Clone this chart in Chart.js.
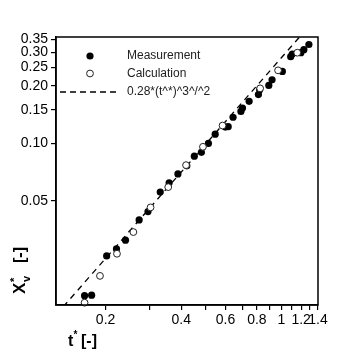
<!DOCTYPE html>
<html>
<head>
<meta charset="utf-8">
<script src="https://cdn.jsdelivr.net/npm/chart.js@4/dist/chart.umd.min.js"></script>
<style>
  html, body { margin: 0; padding: 0; background: #fff; }
  canvas { display: block; }
</style>
</head>
<body>
<canvas id="chart" width="350" height="350"></canvas>
<script>
// Measured dimensionless vapour fraction X*v against dimensionless time t*
const measT = [0.165, 0.176, 0.202, 0.221, 0.240, 0.272, 0.295, 0.330, 0.358, 0.388, 0.421,
               0.451, 0.481, 0.513, 0.546, 0.599, 0.615, 0.643, 0.691, 0.701, 0.745, 0.811,
               0.820, 0.892, 0.919, 1.010, 1.090, 1.106, 1.197, 1.230, 1.288];
const measX = [0.0160, 0.0161, 0.0258, 0.0281, 0.0312, 0.0398, 0.0440, 0.0557, 0.0622, 0.0693, 0.0764,
               0.0858, 0.0898, 0.100, 0.1118, 0.1217, 0.1224, 0.137, 0.147, 0.153, 0.166, 0.180,
               0.191, 0.201, 0.215, 0.238, 0.284, 0.293, 0.298, 0.309, 0.329];

// Calculated values
const calcT = [0.165, 0.190, 0.222, 0.258, 0.302, 0.355, 0.418, 0.488, 0.584, 0.824, 0.971, 1.158];
const calcX = [0.0147, 0.0203, 0.0265, 0.0344, 0.0463, 0.0591, 0.0770, 0.0960, 0.124, 0.194, 0.241, 0.298];

// Correlation 0.28*(t*)^(3/2)
const fitCoef = 0.28;
const fitExp = 1.5;
const fitT = [0.127, 1.4];

// Axis ticks
const xTickValues = [0.2, 0.3, 0.4, 0.5, 0.6, 0.7, 0.8, 0.9, 1.0, 1.1, 1.2, 1.3, 1.4];
const xTickLabels = [0.2, 0.4, 0.6, 0.8, 1.0, 1.2, 1.4];
const yTickValues = [0.05, 0.10, 0.15, 0.20, 0.25, 0.30, 0.35];

const legendLabels = ['Measurement', 'Calculation', '0.28*(t^*)^3^/^2'];

const FONT = '"Liberation Sans", Arial, sans-serif';

const toPoints = (xs, ys) => xs.map((x, i) => ({ x: x, y: ys[i] }));
const fitPoints = fitT.map(t => ({ x: t, y: fitCoef * Math.pow(t, fitExp) }));

const frameAndText = {
  id: 'frameAndText',
  afterDraw(chart) {
    const ctx = chart.ctx;
    const a = chart.chartArea;
    ctx.save();
    // box around the plot
    ctx.strokeStyle = '#000';
    ctx.lineWidth = 1.5;
    ctx.strokeRect(a.left, a.top, a.right - a.left, a.bottom - a.top);

    // legend
    ctx.fillStyle = '#000';
    ctx.beginPath();
    ctx.arc(90, 56, 3.6, 0, Math.PI * 2);
    ctx.fill();
    ctx.beginPath();
    ctx.arc(90, 73.5, 3.4, 0, Math.PI * 2);
    ctx.fillStyle = '#fff';
    ctx.fill();
    ctx.lineWidth = 1;
    ctx.strokeStyle = '#222';
    ctx.stroke();
    ctx.beginPath();
    ctx.setLineDash([6, 4]);
    ctx.lineWidth = 1.3;
    ctx.strokeStyle = '#000';
    ctx.moveTo(60, 92);
    ctx.lineTo(118, 92);
    ctx.stroke();
    ctx.setLineDash([]);
    ctx.fillStyle = '#222';
    ctx.font = '12px ' + FONT;
    ctx.textBaseline = 'middle';
    ctx.textAlign = 'left';
    ctx.fillText(legendLabels[0], 127, 55.5);
    ctx.fillText(legendLabels[1], 127, 73.5);
    ctx.fillText(legendLabels[2], 127, 92);

    // x-axis title: t* [-]
    ctx.fillStyle = '#000';
    ctx.textBaseline = 'alphabetic';
    ctx.font = 'bold 16px ' + FONT;
    ctx.fillText('t', 68, 346);
    ctx.font = 'bold 10px ' + FONT;
    ctx.fillText('*', 73.5, 338);
    ctx.font = 'bold 16px ' + FONT;
    ctx.fillText('[-]', 81, 346);

    // y-axis title: X*v [-], rotated
    ctx.translate(25, 294);
    ctx.rotate(-Math.PI / 2);
    ctx.font = 'bold 17px ' + FONT;
    ctx.fillText('X', 0, 0);
    ctx.font = 'bold 11px ' + FONT;
    ctx.fillText('*', 12, -7);
    ctx.fillText('v', 12, 5);
    ctx.font = 'bold 16px ' + FONT;
    ctx.fillText('[-]', 31, 0);
    ctx.restore();
  }
};

new Chart(document.getElementById('chart'), {
  type: 'scatter',
  data: {
    datasets: [
      {
        label: legendLabels[0],
        data: toPoints(measT, measX),
        backgroundColor: '#000',
        borderColor: '#000',
        borderWidth: 0,
        pointRadius: 3.6,
        clip: false,
        order: 2
      },
      {
        label: legendLabels[1],
        data: toPoints(calcT, calcX),
        backgroundColor: '#fff',
        borderColor: '#222',
        borderWidth: 1,
        pointRadius: 3.4,
        clip: false,
        order: 1
      },
      {
        type: 'line',
        label: legendLabels[2],
        data: fitPoints,
        borderColor: '#000',
        borderWidth: 1.3,
        borderDash: [6, 5],
        pointRadius: 0,
        fill: false,
        order: 3
      }
    ]
  },
  options: {
    responsive: false,
    animation: false,
    devicePixelRatio: 1,
    layout: { padding: { top: 37, right: 32, left: 0, bottom: 0 } },
    plugins: {
      legend: { display: false },
      tooltip: { enabled: false }
    },
    scales: {
      x: {
        type: 'logarithmic',
        min: 0.127,
        max: 1.4,
        afterBuildTicks(scale) {
          scale.ticks = xTickValues.map(v => ({ value: v }));
        },
        afterFit(scale) { scale.height = 45; },
        border: { display: true, color: '#000', width: 1.5 },
        grid: { drawOnChartArea: false, drawTicks: true, tickLength: 5, color: '#000', lineWidth: 1.2 },
        ticks: {
          autoSkip: false,
          minRotation: 0,
          maxRotation: 0,
          padding: 2,
          color: '#000',
          font: { family: FONT, size: 14 },
          callback(value) {
            const v = Number(value);
            return xTickLabels.some(l => Math.abs(l - v) < 1e-6) ? String(+v.toFixed(1)) : '';
          }
        }
      },
      y: {
        type: 'logarithmic',
        min: 0.0143,
        max: 0.36,
        afterBuildTicks(scale) {
          scale.ticks = yTickValues.map(v => ({ value: v }));
        },
        afterFit(scale) { scale.width = 56; },
        border: { display: true, color: '#000', width: 1.5 },
        grid: { drawOnChartArea: false, drawTicks: true, tickLength: 5, color: '#000', lineWidth: 1.2 },
        ticks: {
          autoSkip: false,
          padding: 3,
          color: '#000',
          font: { family: FONT, size: 14 },
          callback(value) { return Number(value).toFixed(2); }
        }
      }
    }
  },
  plugins: [frameAndText]
});
</script>
</body>
</html>
